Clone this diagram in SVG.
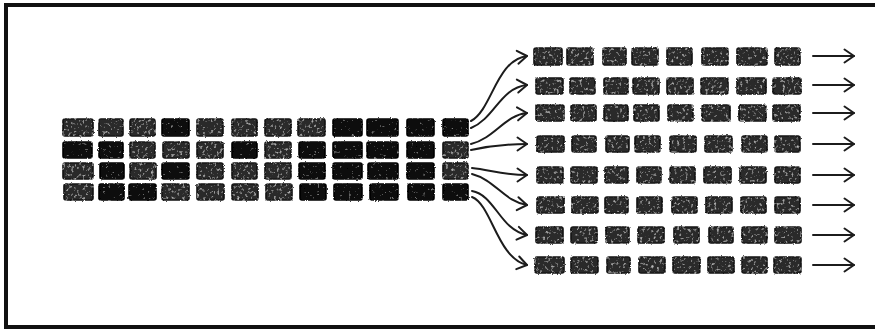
<svg xmlns="http://www.w3.org/2000/svg" width="875" height="329" viewBox="0 0 875 329">
<style>
.b{fill:#2c2c2c;stroke:#141414;stroke-width:1.6;filter:url(#roughB)}
.k{fill:#0c0c0c;stroke:#060606;stroke-width:1.6;filter:url(#roughK)}
.c{fill:none;stroke:#1c1c1c;stroke-width:2;stroke-linecap:round}
</style>
<defs>
<filter id="roughB" x="-15%" y="-25%" width="130%" height="150%">
<feTurbulence type="fractalNoise" baseFrequency="0.7" numOctaves="2" seed="2" result="noise"/>
<feDisplacementMap in="SourceGraphic" in2="noise" scale="2.2" xChannelSelector="R" yChannelSelector="G" result="d0"/>
<feGaussianBlur in="d0" stdDeviation="0.45" result="d"/>
<feTurbulence type="fractalNoise" baseFrequency="0.35" numOctaves="2" seed="9" result="n2"/>
<feColorMatrix in="n2" type="matrix" values="0 0 0 0 0.55  0 0 0 0 0.55  0 0 0 0 0.55  3 0 0 0 -1.75" result="spk"/>
<feComposite in="spk" in2="d0" operator="in" result="spkIn0"/>
<feGaussianBlur in="spkIn0" stdDeviation="0.3" result="spkIn"/>
<feMerge><feMergeNode in="d"/><feMergeNode in="spkIn"/></feMerge>
</filter>
<filter id="roughK" x="-15%" y="-25%" width="130%" height="150%">
<feTurbulence type="fractalNoise" baseFrequency="0.7" numOctaves="2" seed="4" result="noise"/>
<feDisplacementMap in="SourceGraphic" in2="noise" scale="2.2" xChannelSelector="R" yChannelSelector="G" result="d0"/>
<feGaussianBlur in="d0" stdDeviation="0.45" result="d"/>
<feTurbulence type="fractalNoise" baseFrequency="0.35" numOctaves="2" seed="11" result="n2"/>
<feColorMatrix in="n2" type="matrix" values="0 0 0 0 0.45  0 0 0 0 0.45  0 0 0 0 0.45  3 0 0 0 -2.05" result="spk"/>
<feComposite in="spk" in2="d0" operator="in" result="spkIn0"/>
<feGaussianBlur in="spkIn0" stdDeviation="0.3" result="spkIn"/>
<feMerge><feMergeNode in="d"/><feMergeNode in="spkIn"/></feMerge>
</filter>
<marker id="ah" viewBox="-12 -9 14 18" refX="0" refY="0" markerWidth="14" markerHeight="18" markerUnits="userSpaceOnUse" orient="auto">
<path d="M-9.5,-6.5 L0,0 L-9.5,6.5" fill="none" stroke="#1c1c1c" stroke-width="2" stroke-linecap="round" stroke-linejoin="round"/>
</marker>
</defs>
<rect width="875" height="329" fill="#ffffff"/>
<rect id="frame" x="6" y="5" width="885" height="322" fill="none" stroke="#111" stroke-width="4"/>
<g id="left-grid">
<g id="left-row-1">
<rect class="b" x="63" y="119" width="30" height="17" rx="2"/><rect class="b" x="99" y="119" width="24" height="17" rx="2"/><rect class="b" x="130" y="119" width="25" height="17" rx="2"/><rect class="k" x="162" y="119" width="27" height="17" rx="2"/><rect class="b" x="197" y="119" width="26" height="17" rx="2"/><rect class="b" x="232" y="119" width="25" height="17" rx="2"/><rect class="b" x="265" y="119" width="26" height="17" rx="2"/><rect class="b" x="298" y="119" width="27" height="17" rx="2"/><rect class="k" x="333" y="119" width="29" height="17" rx="2"/><rect class="k" x="367" y="119" width="31" height="17" rx="2"/><rect class="k" x="407" y="119" width="27" height="17" rx="2"/><rect class="k" x="443" y="119" width="25" height="17" rx="2"/>
</g>
<g id="left-row-2">
<rect class="k" x="63" y="142" width="29" height="16" rx="2"/><rect class="k" x="99" y="142" width="24" height="16" rx="2"/><rect class="b" x="130" y="142" width="25" height="16" rx="2"/><rect class="b" x="163" y="142" width="26" height="16" rx="2"/><rect class="b" x="197" y="142" width="26" height="16" rx="2"/><rect class="k" x="232" y="142" width="25" height="16" rx="2"/><rect class="b" x="265" y="142" width="26" height="16" rx="2"/><rect class="k" x="299" y="142" width="26" height="16" rx="2"/><rect class="k" x="333" y="142" width="29" height="16" rx="2"/><rect class="k" x="367" y="142" width="31" height="16" rx="2"/><rect class="k" x="407" y="142" width="27" height="16" rx="2"/><rect class="b" x="443" y="142" width="25" height="16" rx="2"/>
</g>
<g id="left-row-3">
<rect class="b" x="63" y="163" width="30" height="16" rx="2"/><rect class="k" x="100" y="163" width="24" height="16" rx="2"/><rect class="b" x="130" y="163" width="26" height="16" rx="2"/><rect class="k" x="162" y="163" width="27" height="16" rx="2"/><rect class="b" x="197" y="163" width="26" height="16" rx="2"/><rect class="b" x="232" y="163" width="25" height="16" rx="2"/><rect class="b" x="265" y="163" width="26" height="16" rx="2"/><rect class="k" x="299" y="163" width="26" height="16" rx="2"/><rect class="k" x="333" y="163" width="29" height="16" rx="2"/><rect class="k" x="368" y="163" width="30" height="16" rx="2"/><rect class="k" x="407" y="163" width="27" height="16" rx="2"/><rect class="b" x="443" y="163" width="25" height="16" rx="2"/>
</g>
<g id="left-row-4">
<rect class="b" x="64" y="184" width="29" height="16" rx="2"/><rect class="k" x="99" y="184" width="25" height="16" rx="2"/><rect class="k" x="129" y="184" width="27" height="16" rx="2"/><rect class="b" x="162" y="184" width="27" height="16" rx="2"/><rect class="b" x="197" y="184" width="27" height="16" rx="2"/><rect class="b" x="232" y="184" width="26" height="16" rx="2"/><rect class="b" x="266" y="184" width="26" height="16" rx="2"/><rect class="k" x="300" y="184" width="26" height="16" rx="2"/><rect class="k" x="334" y="184" width="28" height="16" rx="2"/><rect class="k" x="370" y="184" width="28" height="16" rx="2"/><rect class="k" x="408" y="184" width="26" height="16" rx="2"/><rect class="k" x="443" y="184" width="25" height="16" rx="2"/>
</g>
</g>
<g id="right-grid">
<g id="right-row-1"><rect class="b" x="534" y="48" width="28" height="17" rx="2"/><rect class="b" x="567" y="48" width="26" height="17" rx="2"/><rect class="b" x="603" y="48" width="23" height="17" rx="2"/><rect class="b" x="632" y="48" width="26" height="17" rx="2"/><rect class="b" x="667" y="48" width="25" height="17" rx="2"/><rect class="b" x="702" y="48" width="26" height="17" rx="2"/><rect class="b" x="737" y="48" width="30" height="17" rx="2"/><rect class="b" x="775" y="48" width="25" height="17" rx="2"/></g>
<g id="right-row-2"><rect class="b" x="536" y="78" width="27" height="16" rx="2"/><rect class="b" x="570" y="78" width="25" height="16" rx="2"/><rect class="b" x="604" y="78" width="24" height="16" rx="2"/><rect class="b" x="633" y="78" width="26" height="16" rx="2"/><rect class="b" x="667" y="78" width="26" height="16" rx="2"/><rect class="b" x="701" y="78" width="27" height="16" rx="2"/><rect class="b" x="737" y="78" width="29" height="16" rx="2"/><rect class="b" x="773" y="78" width="28" height="16" rx="2"/></g>
<g id="right-row-3"><rect class="b" x="536" y="105" width="28" height="16" rx="2"/><rect class="b" x="571" y="105" width="25" height="16" rx="2"/><rect class="b" x="604" y="105" width="24" height="16" rx="2"/><rect class="b" x="634" y="105" width="25" height="16" rx="2"/><rect class="b" x="668" y="105" width="25" height="16" rx="2"/><rect class="b" x="702" y="105" width="28" height="16" rx="2"/><rect class="b" x="739" y="105" width="27" height="16" rx="2"/><rect class="b" x="773" y="105" width="27" height="16" rx="2"/></g>
<g id="right-row-4"><rect class="b" x="537" y="136" width="27" height="16" rx="2"/><rect class="b" x="572" y="136" width="24" height="16" rx="2"/><rect class="b" x="606" y="136" width="23" height="16" rx="2"/><rect class="b" x="635" y="136" width="25" height="16" rx="2"/><rect class="b" x="670" y="136" width="26" height="16" rx="2"/><rect class="b" x="705" y="136" width="27" height="16" rx="2"/><rect class="b" x="742" y="136" width="25" height="16" rx="2"/><rect class="b" x="775" y="136" width="25" height="16" rx="2"/></g>
<g id="right-row-5"><rect class="b" x="537" y="167" width="26" height="16" rx="2"/><rect class="b" x="571" y="167" width="26" height="16" rx="2"/><rect class="b" x="605" y="167" width="23" height="16" rx="2"/><rect class="b" x="637" y="167" width="24" height="16" rx="2"/><rect class="b" x="670" y="167" width="25" height="16" rx="2"/><rect class="b" x="704" y="167" width="27" height="16" rx="2"/><rect class="b" x="740" y="167" width="26" height="16" rx="2"/><rect class="b" x="775" y="167" width="25" height="16" rx="2"/></g>
<g id="right-row-6"><rect class="b" x="537" y="197" width="27" height="16" rx="2"/><rect class="b" x="572" y="197" width="26" height="16" rx="2"/><rect class="b" x="605" y="197" width="23" height="16" rx="2"/><rect class="b" x="637" y="197" width="25" height="16" rx="2"/><rect class="b" x="672" y="197" width="25" height="16" rx="2"/><rect class="b" x="706" y="197" width="26" height="16" rx="2"/><rect class="b" x="741" y="197" width="25" height="16" rx="2"/><rect class="b" x="775" y="197" width="25" height="16" rx="2"/></g>
<g id="right-row-7"><rect class="b" x="536" y="227" width="27" height="16" rx="2"/><rect class="b" x="571" y="227" width="26" height="16" rx="2"/><rect class="b" x="606" y="227" width="23" height="16" rx="2"/><rect class="b" x="638" y="227" width="26" height="16" rx="2"/><rect class="b" x="674" y="227" width="25" height="16" rx="2"/><rect class="b" x="709" y="227" width="24" height="16" rx="2"/><rect class="b" x="742" y="227" width="25" height="16" rx="2"/><rect class="b" x="775" y="227" width="26" height="16" rx="2"/></g>
<g id="right-row-8"><rect class="b" x="535" y="257" width="29" height="16" rx="2"/><rect class="b" x="571" y="257" width="27" height="16" rx="2"/><rect class="b" x="607" y="257" width="23" height="16" rx="2"/><rect class="b" x="639" y="257" width="26" height="16" rx="2"/><rect class="b" x="673" y="257" width="27" height="16" rx="2"/><rect class="b" x="708" y="257" width="26" height="16" rx="2"/><rect class="b" x="742" y="257" width="25" height="16" rx="2"/><rect class="b" x="774" y="257" width="27" height="16" rx="2"/></g>
</g>
<g id="connectors">
<path class="c" marker-end="url(#ah)" d="M471,121 C492,110 496,60 527,56"/>
<path class="c" marker-end="url(#ah)" d="M471,128 C495,118 500,88 527,85"/>
<path class="c" marker-end="url(#ah)" d="M471,144 C495,138 505,115 527,113"/>
<path class="c" marker-end="url(#ah)" d="M471,150 C490,146 505,144 527,144"/>
<path class="c" marker-end="url(#ah)" d="M472,168 C490,170 505,175 527,175"/>
<path class="c" marker-end="url(#ah)" d="M472,174 C495,180 505,202 527,205"/>
<path class="c" marker-end="url(#ah)" d="M472,191 C495,195 500,230 527,235"/>
<path class="c" marker-end="url(#ah)" d="M472,197 C492,205 497,258 527,265"/>
<path class="c" marker-end="url(#ah)" d="M813,56 L854,56"/>
<path class="c" marker-end="url(#ah)" d="M813,85 L854,85"/>
<path class="c" marker-end="url(#ah)" d="M813,113 L854,113"/>
<path class="c" marker-end="url(#ah)" d="M813,144 L854,144"/>
<path class="c" marker-end="url(#ah)" d="M813,175 L854,175"/>
<path class="c" marker-end="url(#ah)" d="M813,205 L854,205"/>
<path class="c" marker-end="url(#ah)" d="M813,235 L854,235"/>
<path class="c" marker-end="url(#ah)" d="M813,265 L854,265"/>
</g>
</svg>
